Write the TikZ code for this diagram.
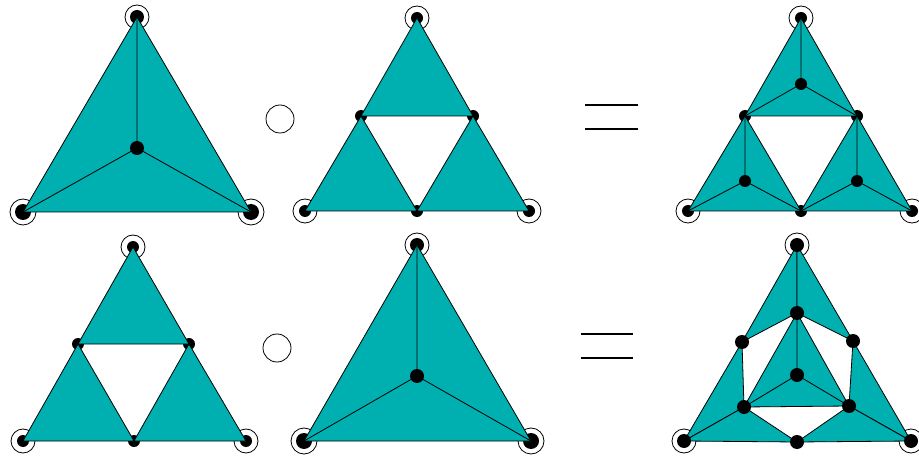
\documentclass[tikz,border=0pt]{standalone}
\definecolor{tealfill}{RGB}{0,176,176}
\tikzset{
  face/.style={fill=tealfill,draw=black,line width=0.8pt,line join=round},
  edge/.style={draw=black,line width=0.8pt},
  bigdot/.style={circle,fill=black,inner sep=0pt,minimum size=14pt},
  hugedot/.style={circle,fill=black,inner sep=0pt,minimum size=16pt},
  smalldot/.style={circle,fill=black,inner sep=0pt,minimum size=12pt},
  ring/.style={circle,draw=black,line width=0.8pt,inner sep=0pt,minimum size=24pt},
  bigring/.style={circle,draw=black,line width=0.8pt,inner sep=0pt,minimum size=26pt},
  opcirc/.style={circle,draw=black,line width=0.8pt,inner sep=0pt,minimum size=28pt},
  eqline/.style={draw=black,line width=1.1pt}
}
\begin{document}
\begin{tikzpicture}[x=1pt,y=-1pt]
\useasboundingbox (0,0) rectangle (919,457);
% ---------- panel 1 ----------
\coordinate (aT) at (137,17);
\coordinate (aL) at (23,212);
\coordinate (aR) at (251,212);
\coordinate (aC) at (137,148);
\node[ring] (aTr) at (aT) {}; \node[bigdot] (aTd) at (aT) {};
\foreach \p in {aL,aR}{\node[bigring] (\p r) at (\p) {}; \node[hugedot] (\p d) at (\p) {};}
\filldraw[face] (aT)--(aL)--(aR)--cycle;
\draw[edge] (aC)--(aT) (aC)--(aL) (aC)--(aR);
\node[bigdot] (aCd) at (aC) {};
\node[opcirc] (op1) at (280,119) {};
% ---------- panel 2 ----------
\coordinate (bT) at (417,18);
\coordinate (bL) at (305,211);
\coordinate (bR) at (529,211);
\coordinate (bML) at (361,116);
\coordinate (bMR) at (473,116);
\coordinate (bMB) at (417,211);
\foreach \p in {bT,bL,bR}{\node[ring] (\p r) at (\p) {};}
\foreach \p in {bT,bL,bR,bML,bMR,bMB}{\node[smalldot] (\p d) at (\p) {};}
\filldraw[face] (bT)--(bML)--(bMR)--cycle;
\filldraw[face] (bML)--(bL)--(bMB)--cycle;
\filldraw[face] (bMR)--(bMB)--(bR)--cycle;
% ---------- equals 1 ----------
\coordinate (e1a) at (585,105); \coordinate (e1b) at (638,105);
\coordinate (e2a) at (585,129); \coordinate (e2b) at (638,129);
\draw[eqline] (e1a)--(e1b);
\draw[eqline] (e2a)--(e2b);
% ---------- panel 3 ----------
\coordinate (cT) at (801,18);
\coordinate (cL) at (688,211);
\coordinate (cR) at (912,211);
\coordinate (cML) at (745,116);
\coordinate (cMR) at (857,116);
\coordinate (cMB) at (801,211);
\coordinate (cC1) at (801,84);
\coordinate (cC2) at (745,181);
\coordinate (cC3) at (857,181);
\foreach \p in {cT,cL,cR}{\node[ring] (\p r) at (\p) {};}
\foreach \p in {cT,cL,cR,cML,cMR,cMB}{\node[smalldot] (\p d) at (\p) {};}
\filldraw[face] (cT)--(cML)--(cMR)--cycle;
\filldraw[face] (cML)--(cL)--(cMB)--cycle;
\filldraw[face] (cMR)--(cMB)--(cR)--cycle;
\draw[edge] (cC1)--(cT) (cC1)--(cML) (cC1)--(cMR);
\draw[edge] (cC2)--(cML) (cC2)--(cL) (cC2)--(cMB);
\draw[edge] (cC3)--(cMR) (cC3)--(cMB) (cC3)--(cR);
\foreach \p in {cC1,cC2,cC3}{\node[smalldot] (\p d) at (\p) {};}
% ---------- panel 4 ----------
\coordinate (dT) at (133,247);
\coordinate (dL) at (23,441);
\coordinate (dR) at (246,441);
\coordinate (dML) at (78,344);
\coordinate (dMR) at (189,344);
\coordinate (dMB) at (134,441);
\foreach \p in {dT,dL,dR}{\node[ring] (\p r) at (\p) {};}
\foreach \p in {dT,dL,dR,dML,dMR,dMB}{\node[smalldot] (\p d) at (\p) {};}
\filldraw[face] (dT)--(dML)--(dMR)--cycle;
\filldraw[face] (dML)--(dL)--(dMB)--cycle;
\filldraw[face] (dMR)--(dMB)--(dR)--cycle;
\node[opcirc] (op2) at (277,348) {};
% ---------- panel 5 ----------
\coordinate (eT) at (417,245);
\coordinate (eL) at (304,441);
\coordinate (eR) at (531,441);
\coordinate (eC) at (417,376);
\node[ring] (eTr) at (eT) {}; \node[bigdot] (eTd) at (eT) {};
\foreach \p in {eL,eR}{\node[bigring] (\p r) at (\p) {}; \node[hugedot] (\p d) at (\p) {};}
\filldraw[face] (eT)--(eL)--(eR)--cycle;
\draw[edge] (eC)--(eT) (eC)--(eL) (eC)--(eR);
\node[bigdot] (eCd) at (eC) {};
% ---------- equals 2 ----------
\coordinate (e3a) at (581,334); \coordinate (e3b) at (633,334);
\coordinate (e4a) at (581,358); \coordinate (e4b) at (633,358);
\draw[eqline] (e3a)--(e3b);
\draw[eqline] (e4a)--(e4b);
% ---------- panel 6 ----------
\coordinate (fT) at (797,245);
\coordinate (fL) at (684,441);
\coordinate (fR) at (911,441);
\coordinate (fA) at (797,313);
\coordinate (fSL) at (742,342);
\coordinate (fSR) at (853,341);
\coordinate (fP) at (744,407);
\coordinate (fQ) at (849,406);
\coordinate (fC) at (797,375);
\coordinate (fM) at (797,442);
\foreach \p in {fT,fL,fR}{\node[ring] (\p r) at (\p) {};}
\filldraw[face] (fT)--(fSL)--(fA)--cycle;
\filldraw[face] (fT)--(fA)--(fSR)--cycle;
\filldraw[face] (fSL)--(fL)--(fP)--cycle;
\filldraw[face] (fL)--(fM)--(fP)--cycle;
\filldraw[face] (fSR)--(fQ)--(fR)--cycle;
\filldraw[face] (fQ)--(fM)--(fR)--cycle;
\filldraw[face] (fA)--(fP)--(fQ)--cycle;
\draw[edge] (fC)--(fA) (fC)--(fP) (fC)--(fQ);
\foreach \p in {fT,fL,fR,fA,fSL,fSR,fP,fQ,fC,fM}{\node[bigdot] (\p d) at (\p) {};}
\end{tikzpicture}
\end{document}
